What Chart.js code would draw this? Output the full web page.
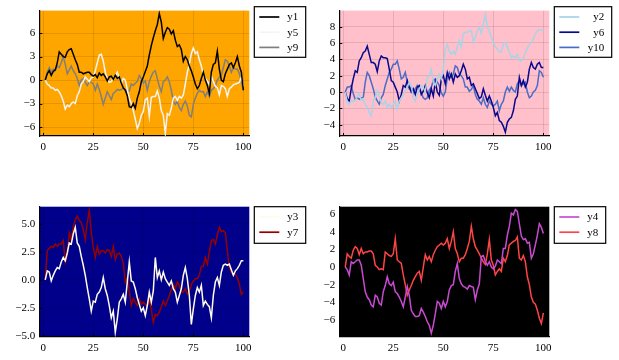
<!DOCTYPE html>
<html><head><meta charset="utf-8">
<script src="https://cdn.jsdelivr.net/npm/chart.js@4"></script>
<style>
html,body{margin:0;padding:0;background:#fff;width:619px;height:360px;overflow:hidden}
canvas{position:absolute;left:0;top:0}
</style></head><body>
<canvas id="c1" width="619" height="360"></canvas>
<canvas id="c2" width="619" height="360"></canvas>
<canvas id="c3" width="619" height="360"></canvas>
<canvas id="c4" width="619" height="360"></canvas>
<script>
const xTicks = [0, 25, 50, 75, 100];
const y1 = [0,0.8,1.2,0.6,1.1,1.3,2.2,3.6,3.3,3.0, 2.9,3.6,3.9,4.0,3.3,2.6,2.0,1.0,1.0,0.8, 0.9,1.0,1.0,0.7,0.5,0.7,0.3,0.9,0.6,0.8, 0.4,-0.1,0.4,0.5,0.1,0.6,0.2,0.4,-0.4,-1.0, -1.3,-2.0,-3.4,-3.5,-3.0,-3.6,-2.3,-1.5,-0.2,0.4, 1.1,1.8,3.2,4.4,5.4,6.3,7.1,8.5,7.4,5.3, 6.1,6.7,6.5,5.9,6.3,5.1,4.3,4.5,3.9,2.4, 3.0,2.6,1.8,1.2,0.4,-0.5,-1.1,-0.7,0.2,1.0, 0.0,-0.7,-1.7,1.0,2.0,2.2,3.7,1.4,0.0,-0.2, 0.8,1.4,2.0,2.2,1.6,2.2,3.0,1.8,1.0,-1.3];
const y5 = [0,-0.5,-0.7,-1.0,-1.0,-1.3,-1.2,-1.5,-2.0,-2.7, -3.7,-3.2,-3.4,-3.0,-2.8,-3.0,-2.0,-1.5,-0.5,-0.2, 0.4,0.1,-0.2,0.3,0.4,1.2,2.2,3.2,3.3,2.4, 1.0,0.2,-0.3,-0.2,0.3,0.5,1.0,0.3,-0.4,0.2, 0.0,-1.2,-2.3,-3.0,-3.9,-5.0,-6.2,-5.5,-4.5,-4.0, -2.5,-2.3,-4.6,-2.2,-2.1,-2.1,-1.4,-2.3,-3.9,-4.5, -6.8,-4.3,-4.5,-3.6,-2.3,-2.1,-2.6,-2.1,-2.3,-1.9, -0.5,1.0,2.0,3.4,4.1,3.4,3.6,2.6,1.8,0.6, 0.2,-0.1,-0.6,0.6,-0.2,-0.8,-1.0,-1.9,-0.7,-0.8, -1.1,-2.1,-1.1,-0.9,-0.6,-0.5,-0.4,-0.3,0.4,-0.8];
const y9 = [0,1.0,1.6,1.0,1.4,1.2,1.8,1.6,2.2,3.0, 2.0,0.8,1.3,1.8,1.2,0.8,0.2,-0.7,0.0,0.2, -0.3,-0.7,-0.2,-0.3,-0.5,-1.3,-0.5,-1.2,-2.1,-3.1, -2.3,-1.5,-2.0,-2.5,-1.7,-1.5,-1.2,-1.3,-1.2,-1.0, -1.2,-1.5,-1.4,-0.5,-0.7,-0.4,-0.2,0.6,0.2,-0.4, -0.1,-1.3,-0.2,0.5,1.0,1.2,0.2,-0.8,-1.5,-0.2, 0.0,0.4,-0.2,-1.3,-2.7,-3.1,-2.7,-3.5,-3.9,-3.1, -2.7,-3.3,-4.5,-4.7,-3.1,-2.3,-1.7,-1.3,-1.5,-1.5, -2.1,-1.5,-2.1,-1.3,-1.1,-0.7,0.0,0.4,0.6,1.6, 2.6,2.4,1.8,1.0,1.6,1.4,1.4,0.8,-0.2,-1.3];
const y2 = [0,-1.2,-1.5,-1.0,-1.2,-1.0,-0.6,-0.2,-1.0,-0.8, -1.5,-1.9,-2.5,-2.9,-1.1,-0.7,0.2,-0.5,-1.3,-1.5, -1.1,-1.9,-1.5,-1.9,-1.5,-1.1,-2.1,-1.1,-0.7,-0.3, 0.1,0.6,1.2,0.8,-0.7,-1.1,-0.3,0.4,0.8,0.6, 0.0,1.8,2.0,2.8,1.2,0.8,1.6,2.2,1.6,2.8, 5.2,5.8,5.0,4.6,5.0,4.6,5.5,6.3,5.5,7.1, 7.3,7.3,7.5,7.5,6.1,6.7,7.5,7.9,7.2,8.3, 9.5,7.9,7.5,6.7,6.1,5.5,5.3,4.9,4.9,6.0, 6.1,5.5,4.9,4.2,4.4,4.2,4.6,3.8,3.8,4.2, 4.8,5.4,5.8,6.1,6.5,7.1,7.5,7.6,7.6,7.5];
const y6 = [0,-0.8,-1.1,0.4,1.6,2.6,2.4,3.8,4.2,4.8, 5.0,5.6,4.6,3.6,3.6,3.4,2.5,3.8,4.4,4.2, 4.2,4.1,2.8,1.4,1.2,0.6,0.0,-1.1,-0.3,0.8, 0.6,1.4,0.6,0.0,0.4,-0.3,0.6,0.8,-0.3,0.1, 0.8,-0.1,-0.7,0.4,-0.5,1.2,0.0,-0.4,1.6,2.0, 1.0,2.4,1.6,2.2,1.2,2.2,1.8,2.0,2.6,3.4, 2.8,1.6,1.8,0.8,1.0,0.4,-0.2,-0.8,-0.6,0.4, -0.4,-1.1,-0.5,-1.1,-1.9,-2.9,-2.5,-3.5,-3.7,-4.2, -4.9,-3.7,-3.3,-3.1,-2.3,-0.9,-0.5,1.8,0.8,1.4, 0.6,1.2,2.8,3.6,3.0,2.8,3.4,3.6,3.0,3.0];
const y10 = [0,0.6,0.6,0.8,-0.2,-0.9,-0.7,-0.9,-0.7,-0.7, 1.2,2.4,2.0,1.2,0.4,-0.6,-1.1,-1.5,-0.7,-0.3, 0.8,1.6,2.4,2.8,3.4,3.4,3.8,2.8,1.6,1.8, 2.4,1.2,0.4,0.6,-0.1,0.4,0.8,0.4,-0.1,-0.7, -0.9,-0.7,0.2,0.6,1.4,1.6,1.2,0.8,-0.1,-0.5, 0.0,1.8,2.4,1.8,2.2,3.2,3.0,2.2,2.0,1.6, 0.6,0.6,0.1,0.3,0.8,-0.3,-0.9,-1.1,-1.5,-0.7, -1.5,-1.9,-1.1,-1.5,-1.7,-1.5,-1.1,-2.3,-1.5,-1.1, 0.0,0.6,0.1,0.6,0.2,0.0,1.0,1.4,0.8,1.0, 1.2,0.0,-0.7,-0.5,0.0,0.2,0.8,2.6,2.4,1.8];
const y3 = [0,0.8,0.7,-0.1,0.4,0.8,1.1,1.0,1.6,2.0, 1.7,2.4,3.3,3.2,4.1,4.7,3.3,3.0,2.1,1.3, 0.4,-0.7,-1.7,-2.8,-1.9,-2.0,-1.3,-1.1,-0.7,0.2, -0.8,-1.4,-2.3,-3.4,-2.8,-4.7,-3.5,-2.0,-1.7,-1.3, -2.0,-0.2,1.6,-0.1,-0.2,-0.8,-1.6,-2.2,-2.8,-2.5, -3.2,-2.3,-1.1,-2.0,-1.0,2.0,0.2,0.8,0.0,0.7, 0.1,-0.2,-0.5,-0.1,-0.8,-1.1,-2.0,-1.4,-0.8,0.4, 1.1,0.1,-1.4,-4.0,-2.6,-1.4,-0.7,-1.1,-0.5,-2.3, -1.9,-2.2,-2.4,-3.4,-1.4,-0.2,0.2,-0.5,0.7,1.3, 1.4,1.3,1.4,0.9,0.4,0.8,1.0,1.3,1.7,1.7];
const y7 = [0,2.6,2.8,3.0,2.9,3.2,3.0,3.2,3.2,3.5, 1.6,2.3,4.2,3.6,4.7,5.4,5.7,5.3,5.1,4.5, 3.6,5.1,6.2,4.2,2.9,2.0,3.0,2.3,2.6,2.6, 2.4,2.7,2.6,2.1,3.0,1.8,2.3,2.4,2.1,1.5, -0.2,0.2,-1.0,-2.3,-1.7,-2.0,-2.3,-1.7,-2.2,-2.0, -2.2,-2.3,-1.7,-2.7,-3.8,-3.1,-3.2,-2.9,-2.4,-1.9, -2.3,-1.9,-1.4,-0.9,-0.4,-0.8,-0.2,-0.5,-1.1,-1.1, -0.8,-1.3,-1.0,-0.4,-0.1,0.1,0.1,0.4,1.2,1.2, 2.0,1.4,2.5,3.5,3.6,3.2,4.0,4.7,4.3,4.4, 4.2,2.6,1.1,0.7,0.5,0.5,0.2,-0.4,-1.3,-1.1];
const y4 = [0,-0.3,-0.9,0.6,0.4,0.6,0.8,0.8,0.2,-1.3, -2.8,-3.4,-3.7,-4.3,-4.5,-3.2,-3.4,-4.1,-4.3,-2.8, -2.1,-1.1,-1.9,-2.1,-1.7,-2.8,-3.0,-3.4,-3.9,-4.5, -3.4,-2.2,-3.2,-4.9,-5.3,-5.6,-5.6,-5.5,-4.7,-5.1, -5.6,-6.2,-6.6,-7.5,-6.6,-5.3,-3.9,-4.1,-4.7,-3.9, -4.5,-3.9,-2.6,-2.1,-2.0,-0.5,0.4,-1.3,-1.9,-2.2, -2.3,-2.5,-2.1,-2.2,-2.3,-3.7,-2.6,-1.9,1.2,1.3, 0.6,0.2,0.6,0.0,-0.2,0.1,0.8,0.6,0.4,2.1, 2.1,3.6,4.6,6.1,5.9,6.5,6.3,4.9,3.5,3.1, 3.2,2.7,2.8,1.0,1.5,2.5,3.6,4.9,4.5,3.8];
const y8 = [0,1.5,1.2,1.0,1.9,2.3,2.1,1.4,2.1,1.5, 1.7,1.7,1.8,1.8,1.5,0.2,0.0,-0.3,-0.2,-0.3, 1.7,1.5,1.3,1.2,1.5,3.2,0.8,0.6,0.4,-0.9, -2.0,-3.2,-2.6,-2.1,-1.5,-1.1,-0.7,-0.5,-1.5,0.0, 1.4,0.8,1.2,0.6,1.4,1.9,2.3,2.5,2.7,2.5, 2.7,3.2,2.1,2.9,4.0,2.1,1.5,0.6,1.0,1.0, 1.4,2.1,2.9,4.6,3.2,2.3,1.9,1.5,1.0,0.6, 0.3,1.5,3.1,0.8,0.2,-0.9,-0.5,-0.2,-0.5,1.0, 0.6,1.3,2.5,2.7,2.9,3.0,3.4,1.0,0.8,1.3, 0.6,-1.1,-2.0,-3.4,-4.0,-4.2,-4.9,-5.8,-6.4,-5.2];

const FONT = "'Liberation Serif', 'DejaVu Serif', serif";
const FS = 11;

const panels = [
  {id:'c1', area:{l:39.3,t:6,r:249.3,b:136}, ymin:-7.14, ymax:8.87, yticks:[-6,-3,0,3,6], dec:0, bg:'#FFA500',
   series:[['y1',y1,'#000000'],['y5',y5,'#f4f4f4'],['y9',y9,'#7f7f7f']], legend:{l:254.3,t:6.7,r:305.7,b:57.3}},
  {id:'c2', area:{l:339.3,t:6,r:549.3,b:136}, ymin:-5.38, ymax:9.96, yticks:[-4,-2,0,2,4,6,8], dec:0, bg:'#FFC0CB',
   series:[['y2',y2,'#a9d3e6'],['y6',y6,'#08088c'],['y10',y10,'#4a6cc6']], legend:{l:554.3,t:6.7,r:611.7,b:57.3}},
  {id:'c3', area:{l:39.3,t:206.7,r:249.3,b:336.7}, ymin:-5.09, ymax:6.54, yticks:[-5,-2.5,0,2.5,5], dec:1, bg:'#00008B',
   series:[['y3',y3,'#fffbea'],['y7',y7,'#960000']], legend:{l:254.3,t:206.7,r:305.7,b:243.3}},
  {id:'c4', area:{l:339.3,t:206.7,r:549.3,b:336.7}, ymin:-7.89, ymax:6.83, yticks:[-6,-4,-2,0,2,4,6], dec:0, bg:'#000000',
   series:[['y4',y4,'#c94ad2'],['y8',y8,'#ff4444']], legend:{l:554.3,t:206.7,r:605.7,b:243.3}}
];

const bgPlugin = {
  id:'bgfill',
  beforeDraw(chart, args, opts){
    const a = chart.chartArea, ctx = chart.ctx;
    ctx.save(); ctx.fillStyle = opts.color; ctx.fillRect(a.left, a.top, a.right-a.left, a.bottom-a.top); ctx.restore();
  }
};
const tickPlugin = {
  id:'inticks',
  afterDraw(chart){
    const ctx = chart.ctx, a = chart.chartArea, xs = chart.scales.x, ys = chart.scales.y;
    ctx.save(); ctx.strokeStyle = '#000'; ctx.lineWidth = 1;
    xs.ticks.forEach(t => { const p = Math.round(xs.getPixelForValue(t.value))+0.5; ctx.beginPath(); ctx.moveTo(p, a.bottom); ctx.lineTo(p, a.bottom-3); ctx.stroke(); });
    ys.ticks.forEach(t => { const p = Math.round(ys.getPixelForValue(t.value))+0.5; ctx.beginPath(); ctx.moveTo(a.left, p); ctx.lineTo(a.left+3, p); ctx.stroke(); });
    ctx.restore();
  }
};
const legendPlugin = {
  id:'boxlegend',
  afterDraw(chart, args, opts){
    const b = opts.box, ctx = chart.ctx;
    ctx.save();
    ctx.fillStyle = '#fff'; ctx.fillRect(b.l, b.t, b.r-b.l, b.b-b.t);
    ctx.strokeStyle = '#000'; ctx.lineWidth = 1.2; ctx.strokeRect(b.l, b.t, b.r-b.l, b.b-b.t);
    ctx.font = FS + 'px ' + FONT; ctx.textAlign = 'right'; ctx.textBaseline = 'middle';
    chart.data.datasets.forEach((d, k) => {
      const y = b.t + 10.3 + k*15.2;
      ctx.strokeStyle = d.borderColor; ctx.lineWidth = 1.7;
      ctx.beginPath(); ctx.moveTo(b.l+5, y); ctx.lineTo(b.l+25, y); ctx.stroke();
      ctx.fillStyle = '#000'; ctx.fillText(d.label, b.r-7.4, y+0.5);
    });
    ctx.restore();
  }
};

const YW = 30, XH = 22;
panels.forEach(p => {
  const fmt = v => (p.dec ? v.toFixed(p.dec) : String(v)).replace('-', '\u2212');
  new Chart(document.getElementById(p.id), {
    type:'line',
    data:{datasets: p.series.map(s => ({
      label:s[0], data:s[1].map((v,i) => ({x:i+1, y:v})), borderColor:s[2], borderWidth:1.5,
      pointRadius:0, tension:0, fill:false
    }))},
    options:{
      responsive:false, animation:false, devicePixelRatio:1,
      layout:{padding:{left:p.area.l-YW, top:p.area.t, right:619-p.area.r, bottom:360-p.area.b-XH}},
      plugins:{legend:{display:false}, tooltip:{enabled:false}, bgfill:{color:p.bg}, boxlegend:{box:p.legend}},
      scales:{
        x:{type:'linear', min:-1.97, max:102.97,
           afterFit:s => { s.height = XH; },
           afterBuildTicks:s => { s.ticks = xTicks.map(v => ({value:v})); },
           grid:{color:'rgba(0,0,0,0.1)', lineWidth:1, drawTicks:false},
           border:{display:true, color:'#000', width:1.2},
           ticks:{padding:5, color:'#000', font:{family:FONT, size:FS}, maxRotation:0, autoSkip:false, callback:v => String(v)}},
        y:{type:'linear', min:p.ymin, max:p.ymax,
           afterFit:s => { s.width = YW; },
           afterBuildTicks:s => { s.ticks = p.yticks.map(v => ({value:v})); },
           grid:{color:'rgba(0,0,0,0.1)', lineWidth:1, drawTicks:false},
           border:{display:true, color:'#000', width:1.2},
           ticks:{padding:4, color:'#000', font:{family:FONT, size:FS}, autoSkip:false, callback:v => fmt(v)}}
      }
    },
    plugins:[bgPlugin, tickPlugin, legendPlugin]
  });
});
</script>
</body></html>
